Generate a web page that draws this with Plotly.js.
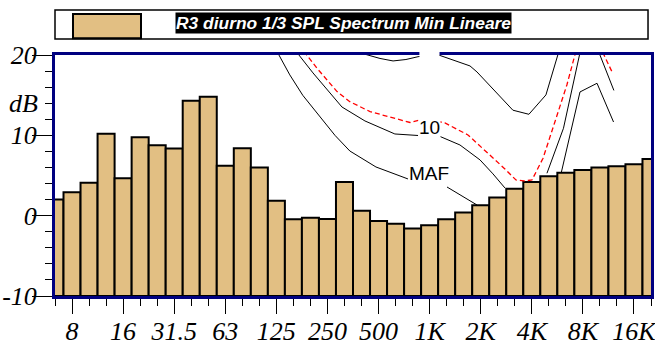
<!DOCTYPE html>
<html>
<head>
<meta charset="utf-8">
<script src="https://cdn.plot.ly/plotly-3.0.1.min.js"></script>
<style>html,body{margin:0;padding:0;background:#fff;}#chart{width:655px;height:345px;}</style>
</head>
<body>
<div id="chart"></div>
<script>
// 1/3-octave band centres
const bands = ['6.3','8','10','12.5','16','20','25','31.5','40','50','63','80','100','125','160','200','250','315','400','500','630','800','1K','1.25K','1.6K','2K','2.5K','3.15K','4K','5K','6.3K','8K','10K','12.5K','16K','20K'];
// R3 diurno 1/3 SPL Spectrum Min Lineare (dB)
const splMin = [2.0, 2.9, 4.1, 10.2, 4.65, 9.75, 8.75, 8.35, 14.3, 14.8, 6.2, 8.4, 6.0, 1.85, -0.45, -0.25, -0.4, 4.2, 0.6, -0.65, -1.0, -1.6, -1.2, -0.45, 0.4, 1.3, 2.25, 3.35, 4.2, 4.9, 5.35, 5.7, 6.0, 6.15, 6.4, 7.05];
// labelled ticks
const tickLabels = ['8','16','31.5','63','125','250','500','1K','2K','4K','8K','16K'];
const yTicks = [-10, 0, 10, 20];

// equal-loudness reference curves (frequency Hz, level dB); null = break
const mafHz = [121, 151, 180, 227, 278, 340, 484, 746, null, 1265, 1897];
const mafDb = [21.25, 17.52, 14.98, 12.29, 10.0, 8.05, 6.06, 4.57, null, 3.57, 1.33];
const phon10Hz = [153.5, 206.5, 305.5, 417, 625, 855, null, 1151, 1507, 1977, 2355, 2768, null, 4887, 6109, 7586, 7816];
const phon10Db = [21.25, 17.77, 13.53, 11.79, 10.17, 9.98, null, 9.86, 8.80, 6.94, 5.20, 3.45, null, 5.28, 10.88, 20.0, 21.25];
const dashHz = [171, 188, 218, 286, 340, 447, 610, 767, 940, 1230, 1679, 2259, 2768, 3214, 3581, 3990, 4634, 5445, 6397, 7129, 7396];
const dashDb = [21.25, 20.09, 18.35, 15.44, 14.19, 12.95, 12.12, 11.60, 12.08, 11.54, 10.05, 7.56, 5.82, 4.44, 4.32, 4.44, 7.15, 11.70, 16.27, 20.0, 21.25];
const upperHz = [340, 429, 511, 610, 726, 855, 1005, 1151, 1449, 1726, 1897, 2588, 3083, 3828, 4819, 5675, 5875];
const upperDb = [20.63, 20.07, 19.57, 19.26, 19.44, 19.79, 19.97, 19.94, 19.17, 18.64, 17.89, 14.81, 13.13, 12.62, 15.03, 20.09, 21.25];
const peakHz = [5943, 7638, 9616, 12023];
const peakDb = [5.44, 15.40, 16.48, 11.66];
const topRHz = [9484, 12078];
const topRDb = [21.25, 15.59];
const topRDashHz = [9908, 11885];
const topRDashDb = [21.25, 17.73];

const base = -10;
const idx1k = bands.indexOf('1K');
const toIdx = f => (f === null ? null : idx1k + 10 * Math.log10(f / 1000));
const xIdx = bands.map((b, i) => i);
const it = s => '<i>' + s + '</i>';

function curve(hz, db, color, dash) {
  return {type: 'scatter', mode: 'lines', x: hz.map(toIdx), y: db, connectgaps: false,
    line: {color: color, width: dash ? 1.3 : 1, dash: dash || 'solid'}, hoverinfo: 'skip', showlegend: false};
}

const traces = [
  {type: 'bar', x: xIdx, y: splMin.map(v => v - base), base: base, width: 1,
   marker: {color: '#E2BF83', line: {color: '#000', width: 2}}, showlegend: false, hoverinfo: 'skip'},
  curve(mafHz, mafDb, '#000'),
  curve(phon10Hz, phon10Db, '#000'),
  curve(dashHz, dashDb, '#FF0000', '5px,3px'),
  curve(upperHz, upperDb, '#000'),
  curve(peakHz, peakDb, '#000'),
  curve(topRHz, topRDb, '#000'),
  curve(topRDashHz, topRDashDb, '#FF0000', '5px,3px')
];

const serif = {family: 'Liberation Serif, Times New Roman, serif', size: 26, color: '#000'};

const layout = {
  width: 655, height: 345,
  margin: {l: 55, r: 4, t: 55, b: 49, pad: 0},
  paper_bgcolor: '#fff', plot_bgcolor: '#fff',
  bargap: 0,
  showlegend: false,
  xaxis: {
    range: [0, 35], showgrid: false, zeroline: false,
    showline: true, linecolor: '#000080', linewidth: 3, mirror: true,
    tickmode: 'array', tickvals: tickLabels.map(l => bands.indexOf(l)), ticktext: tickLabels.map(it),
    ticks: 'outside', ticklen: 15, tickwidth: 1, tickcolor: '#000',
    minor: {tickmode: 'linear', tick0: 0, dtick: 1, ticks: 'outside', ticklen: 7, tickwidth: 1, tickcolor: '#000', showgrid: false},
    tickfont: serif, ticklabeloverflow: 'allow', ticklabelstandoff: -5
  },
  yaxis: {
    range: [-10, 20], showgrid: false, zeroline: false,
    showline: true, linecolor: '#000080', linewidth: 3, mirror: true,
    tickmode: 'array', tickvals: yTicks, ticktext: yTicks.map(v => it(String(v))),
    ticks: 'outside', ticklen: 20, tickwidth: 1, tickcolor: '#000',
    minor: {tickmode: 'linear', tick0: 0, dtick: 2, ticks: 'outside', ticklen: 7, tickwidth: 1, tickcolor: '#000', showgrid: false},
    tickfont: serif, ticklabeloverflow: 'allow', ticklabelstandoff: -10
  },
  shapes: [
    {type: 'rect', xref: 'paper', yref: 'paper', x0: 0, x1: 0.995, y0: 1.066, y1: 1.187,
     line: {color: '#000', width: 1.5}, fillcolor: '#fff'},
    {type: 'rect', xref: 'paper', yref: 'paper', x0: 0.0302, x1: 0.1443, y0: 1.07, y1: 1.17,
     line: {color: '#000', width: 2}, fillcolor: '#E2BF83'},
    {type: 'rect', xref: 'x', yref: 'paper', x0: 21.4, x1: 22.58, y0: 0.988, y1: 1.03,
     line: {width: 0}, fillcolor: '#fff', layer: 'above'}
  ],
  annotations: [
    {xref: 'paper', yref: 'paper', x: 0.2007, y: 1.134, xanchor: 'left', yanchor: 'middle', showarrow: false,
     text: '<b><i>R3 diurno 1/3 SPL Spectrum Min Lineare</i></b>', bgcolor: '#000', borderpad: 0,
     font: {family: 'Liberation Sans, Arial, sans-serif', size: 17.4, color: '#fff'}},
    {xref: 'paper', yref: 'y', x: -0.025, y: 14, xanchor: 'right', yanchor: 'middle', showarrow: false,
     text: it('dB'), font: serif},
    {xref: 'x', yref: 'y', x: 21.96, y: 5.3, showarrow: false, text: 'MAF', bgcolor: '#fff', borderpad: 0,
     font: {family: 'Liberation Sans, Arial, sans-serif', size: 19, color: '#000'}},
    {xref: 'x', yref: 'y', x: 22.02, y: 11.0, showarrow: false, text: '10', bgcolor: '#fff', borderpad: 0,
     font: {family: 'Liberation Sans, Arial, sans-serif', size: 19, color: '#000'}}
  ]
};

Plotly.newPlot('chart', traces, layout, {staticPlot: true, displayModeBar: false});
</script>
</body>
</html>
